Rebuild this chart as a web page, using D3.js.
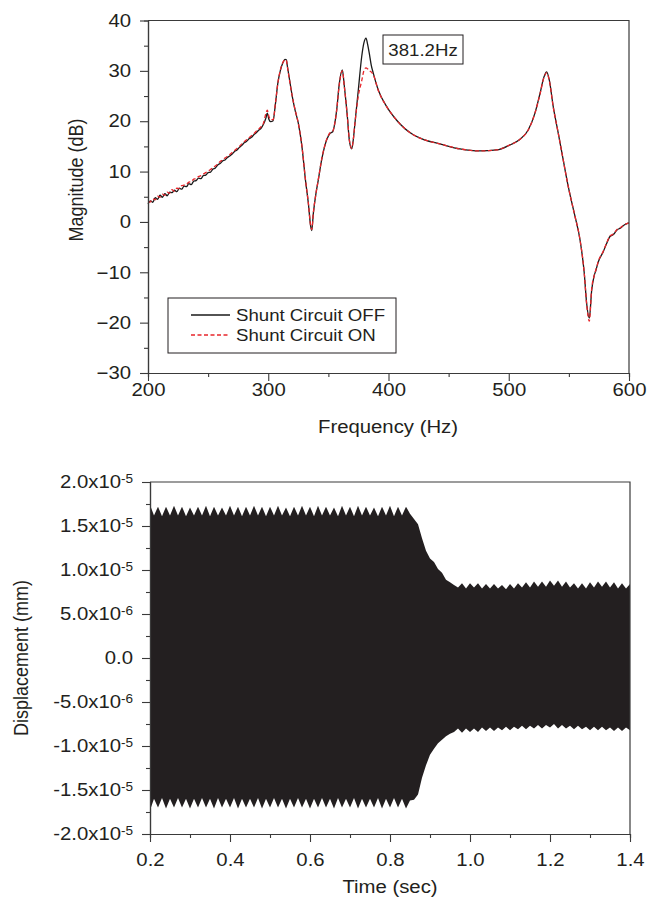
<!DOCTYPE html>
<head>
  <meta charset="utf-8">
  <script src="https://d3js.org/d3.v7.min.js"></script>
  <style>
    body { margin:0; background:#fff; }
    svg { font-family: "Liberation Sans", Arial, Helvetica, sans-serif; }
  </style>
</head>

<body>
  <script>
    // ---- frequency response (top) ----
    var freq = [200,202,204,206,208,210,212,214,216,218,220,222,224,226,228,230,232,234,236,238,
                240,242,244,246,248,250,252,254,256,258,260,262,264,266,268,270,272,274,276,278,
                280,282,284,286,288,290,292,294,296,
                298,299.2,300.5,302,304,306,308,310,312,314,315,316,318,320,322.5,325,328,331,333.3,335.3,
                336.2,337.5,339.7,341.6,344.4,348.6,351.4,353.6,355.5,356.9,359.1,361.6,363.3,365.8,367.4,369.4,
                370.8,372.1,374.9,377.7,379.5,381.3,382.6,384,385.6,387.4,391.5,398.5,406.8,420.6,430,442.8,
                459.5,476,490,501,509.4,516.3,521.8,526,529.3,531.5,533.7,537,541.2,545.3,549.5,552,555,
                559.3,562.8,564.8,567,569,570.9,572.5,574.5,578.6,581,584.2,587,590,593,596,600];

    var magOff = [3.6,4.2,3.9,4.8,4.5,5.3,4.9,5.6,5.2,5.9,5.8,6.3,6.0,6.7,6.5,7.1,7.0,7.6,7.4,8.1,
                  8.2,8.7,8.6,9.2,9.3,9.8,9.9,10.5,10.7,11.3,11.6,12.1,12.3,12.8,13.1,13.5,14.0,14.3,14.8,15.2,
                  15.7,16.0,16.5,16.8,17.3,17.7,18.2,18.6,19.4,
                  20.6,21.6,20.4,19.9,20.1,23.5,27.6,30.0,31.5,32.3,32.2,30.8,27.8,24.9,22.0,19.6,15.0,8.2,3.8,-0.9,
                  -1.7,1.7,5.7,8.3,12.3,16.3,17.6,17.9,19.8,22.2,27.5,30.2,26.9,20.9,16.3,14.5,
                  16.5,19.6,26.2,32.8,35.5,36.5,35.3,33.5,31.2,29.5,26.2,22.9,20.2,17.3,16.3,15.5,
                  14.5,14.1,14.3,15.3,16.4,18.3,21.6,25.5,28.8,29.8,28.2,22.9,17.6,12.3,7.0,4.3,1.2,
                  -3.6,-10.2,-16.2,-19.1,-13.5,-10.8,-9.6,-7.9,-5.9,-4.5,-2.9,-2.5,-1.6,-1.2,-0.6,-0.2];

    var magOn = [3.9,4.0,4.6,4.4,5.1,4.9,5.5,5.3,5.9,5.7,6.4,6.1,6.7,6.6,7.2,7.3,7.5,7.9,8.0,8.5,
                 8.6,9.0,9.2,9.5,9.8,10.1,10.4,10.8,11.1,11.5,12.0,12.3,12.7,13.0,13.4,13.8,14.2,14.6,15.0,15.5,
                 15.9,16.3,16.7,17.1,17.5,18.0,18.4,18.9,19.6,
                 21.5,22.2,21.0,20.3,20.3,23.6,27.6,30.1,31.6,32.2,32.1,30.7,27.7,24.9,22.1,19.6,15.1,8.3,3.9,-0.8,
                 -1.5,1.8,5.7,8.4,12.4,16.4,17.7,18.0,19.8,22.2,27.3,30.0,26.8,20.9,16.4,14.6,
                 16.5,19.6,25.0,28.0,30.0,30.6,30.4,30.0,29.8,29.2,26.1,22.9,20.2,17.3,16.3,15.5,
                 14.5,14.1,14.3,15.3,16.4,18.3,21.6,25.4,28.7,29.6,28.1,22.8,17.6,12.3,7.0,4.3,1.2,
                 -3.6,-10.2,-16.4,-19.7,-13.2,-10.8,-9.5,-7.8,-5.8,-4.4,-2.8,-2.4,-1.5,-1.1,-0.6,-0.2];

    var freqTicks = [200, 300, 400, 500, 600];
    var freqMinor = [250, 350, 450, 550];
    var magTicks = [-30, -20, -10, 0, 10, 20, 30, 40];
    var magMinor = [-25, -15, -5, 5, 15, 25, 35];
    var legendLabels = ["Shunt Circuit OFF", "Shunt Circuit ON"];
    var peakLabel = "381.2Hz";

    // ---- displacement envelope (bottom), values in 1e-5 mm ----
    var time = [0.20,0.21,0.22,0.23,0.24,0.25,0.26,0.27,0.28,0.29,0.30,0.31,0.32,0.33,0.34,0.35,0.36,0.37,0.38,0.39,
                0.40,0.41,0.42,0.43,0.44,0.45,0.46,0.47,0.48,0.49,0.50,0.51,0.52,0.53,0.54,0.55,0.56,0.57,0.58,0.59,
                0.60,0.61,0.62,0.63,0.64,0.65,0.66,0.67,0.68,0.69,0.70,0.71,0.72,0.73,0.74,0.75,0.76,0.77,0.78,0.79,
                0.80,0.81,0.82,0.83,0.84,0.85,0.86,0.87,0.88,0.89,0.90,0.91,0.92,0.93,0.94,0.95,0.96,0.97,0.98,0.99,
                1.00,1.01,1.02,1.03,1.04,1.05,1.06,1.07,1.08,1.09,1.10,1.11,1.12,1.13,1.14,1.15,1.16,1.17,1.18,1.19,
                1.20,1.21,1.22,1.23,1.24,1.25,1.26,1.27,1.28,1.29,1.30,1.31,1.32,1.33,1.34,1.35,1.36,1.37,1.38,1.39,1.40];

    var dispUpper = [1.74,1.62,1.72,1.61,1.72,1.62,1.73,1.62,1.72,1.61,
                     1.71,1.62,1.72,1.62,1.73,1.61,1.72,1.62,1.71,1.62,
                     1.73,1.62,1.72,1.61,1.72,1.62,1.73,1.62,1.72,1.61,
                     1.72,1.62,1.73,1.62,1.71,1.61,1.72,1.62,1.73,1.62,
                     1.72,1.61,1.73,1.62,1.72,1.62,1.71,1.61,1.73,1.62,
                     1.72,1.61,1.73,1.62,1.72,1.62,1.71,1.61,1.72,1.62,
                     1.73,1.61,1.72,1.62,1.72,1.64,1.58,1.52,1.36,1.22,
                     1.13,1.09,1.01,0.97,0.89,0.86,0.83,0.80,0.85,0.79,
                     0.85,0.80,0.85,0.79,0.84,0.79,0.84,0.79,0.83,0.78,
                     0.84,0.79,0.85,0.80,0.86,0.80,0.87,0.81,0.87,0.81,
                     0.88,0.82,0.88,0.81,0.87,0.80,0.85,0.79,0.85,0.79,
                     0.86,0.80,0.87,0.81,0.87,0.80,0.86,0.79,0.85,0.79,0.84];

    var dispLower = [-1.73,-1.60,-1.70,-1.59,-1.71,-1.60,-1.70,-1.59,-1.70,-1.60,
                     -1.71,-1.60,-1.70,-1.59,-1.70,-1.60,-1.71,-1.59,-1.70,-1.60,
                     -1.70,-1.59,-1.71,-1.60,-1.70,-1.60,-1.70,-1.59,-1.71,-1.60,
                     -1.70,-1.59,-1.70,-1.60,-1.71,-1.60,-1.70,-1.59,-1.70,-1.60,
                     -1.71,-1.60,-1.70,-1.59,-1.70,-1.60,-1.71,-1.59,-1.70,-1.60,
                     -1.70,-1.59,-1.71,-1.60,-1.70,-1.60,-1.70,-1.59,-1.71,-1.60,
                     -1.70,-1.59,-1.70,-1.60,-1.71,-1.62,-1.61,-1.55,-1.36,-1.22,
                     -1.10,-1.03,-0.97,-0.93,-0.89,-0.86,-0.84,-0.80,-0.85,-0.80,
                     -0.84,-0.80,-0.84,-0.79,-0.83,-0.79,-0.83,-0.79,-0.82,-0.78,
                     -0.82,-0.78,-0.81,-0.77,-0.81,-0.77,-0.80,-0.76,-0.80,-0.76,
                     -0.79,-0.75,-0.80,-0.76,-0.80,-0.77,-0.81,-0.77,-0.81,-0.78,
                     -0.82,-0.78,-0.82,-0.78,-0.82,-0.79,-0.83,-0.79,-0.83,-0.79,-0.82];

    var timeTicks = [0.2, 0.4, 0.6, 0.8, 1.0, 1.2, 1.4];
    var timeMinor = [0.3, 0.5, 0.7, 0.9, 1.1, 1.3];
    var dispTicks = [-2, -1.5, -1, -0.5, 0, 0.5, 1, 1.5, 2];
    var dispMinor = [-1.75, -1.25, -0.75, -0.25, 0.25, 0.75, 1.25, 1.75];
    var dispMant = ["-2.0x10", "-1.5x10", "-1.0x10", "-5.0x10", "0.0", "5.0x10", "1.0x10", "1.5x10", "2.0x10"];
    var dispExp  = ["-5", "-5", "-5", "-6", "", "-6", "-5", "-5", "-5"];

    // ---- drawing ----
    var width = 651, height = 899;
    var SX = 1.13;           // the figure is a bit wider than tall, text too
    var axisCol = '#3a3a3a';

    var svg = d3.select('body').append('svg')
      .attr('width', width)
      .attr('height', height);

    function styleAxis(g, fs) {
      g.attr('font-size', fs).attr('font-family', null);
      g.select('.domain').attr('stroke', axisCol).attr('stroke-width', 1.2);
      g.selectAll('.tick line').attr('stroke', axisCol).attr('stroke-width', 1.1);
      g.selectAll('.tick text').attr('fill', '#231f20').attr('transform', 'scale(' + SX + ',1)');
    }

    function frame(x, y) {
      var r = x.range(), t = y.range();
      svg.append('path')
        .attr('d', 'M' + r[0] + ',' + t[1] + 'H' + r[1] + 'V' + t[0])
        .attr('fill', 'none')
        .attr('stroke', axisCol)
        .attr('stroke-width', 1.2);
    }

    function title(txt, cx, cy, rotate) {
      var g = svg.append('g').attr('transform', 'translate(' + cx + ',' + cy + ')' + (rotate ? ' rotate(-90)' : ''));
      g.append('text')
        .attr('text-anchor', 'middle')
        .attr('font-size', 18)
        .attr('fill', '#231f20')
        .attr('transform', rotate ? 'scale(1,' + SX + ')' : 'scale(' + SX + ',1)')
        .text(txt);
    }

    // top chart
    var x1 = d3.scaleLinear().domain([200, 600]).range([148, 629]);
    var y1 = d3.scaleLinear().domain([-30, 40]).range([373, 20.5]);

    var line1 = d3.line()
      .x(function(d) { return x1(d[0]); })
      .y(function(d) { return y1(d[1]); })
      .curve(d3.curveMonotoneX);

    svg.append('path')
      .datum(d3.zip(freq, magOff))
      .attr('d', line1)
      .attr('fill', 'none')
      .attr('stroke', '#1a1a1a')
      .attr('stroke-width', 1.3);

    svg.append('path')
      .datum(d3.zip(freq, magOn))
      .attr('d', line1)
      .attr('fill', 'none')
      .attr('stroke', '#e8262b')
      .attr('stroke-width', 1.3)
      .attr('stroke-dasharray', '4,2.5');

    frame(x1, y1);

    svg.append('g').attr('transform', 'translate(0,373)')
      .call(d3.axisBottom(x1).tickValues(freqMinor).tickSize(4).tickFormat(''))
      .call(styleAxis, 18);
    svg.append('g').attr('transform', 'translate(0,373)')
      .call(d3.axisBottom(x1).tickValues(freqTicks).tickSize(8).tickSizeOuter(0).tickPadding(2).tickFormat(d3.format('d')))
      .call(styleAxis, 18);
    svg.append('g').attr('transform', 'translate(148,0)')
      .call(d3.axisLeft(y1).tickValues(magMinor).tickSize(4).tickFormat(''))
      .call(styleAxis, 18);
    svg.append('g').attr('transform', 'translate(148,0)')
      .call(d3.axisLeft(y1).tickValues(magTicks).tickSize(8).tickSizeOuter(0).tickPadding(7).tickFormat(d3.format('d')))
      .call(styleAxis, 18);

    title('Frequency (Hz)', 388, 433, false);
    title('Magnitude (dB)', 83, 180, true);

    // peak annotation
    svg.append('rect')
      .attr('x', 383).attr('y', 35).attr('width', 80).attr('height', 29)
      .attr('fill', '#fff').attr('stroke', '#231f20').attr('stroke-width', 1);
    svg.append('text')
      .attr('transform', 'translate(423,56) scale(' + SX + ',1)')
      .attr('text-anchor', 'middle')
      .attr('font-size', 16.5)
      .attr('fill', '#231f20')
      .text(peakLabel);

    // legend
    var leg = svg.append('g').attr('transform', 'translate(168,298)');
    leg.append('rect')
      .attr('width', 228).attr('height', 55)
      .attr('fill', '#fff').attr('stroke', '#231f20').attr('stroke-width', 1);
    var legStyles = [{ c: '#1a1a1a', dash: null }, { c: '#e8262b', dash: '4,2.5' }];
    legendLabels.forEach(function(lbl, i) {
      var yy = 17 + i * 20;
      leg.append('line')
        .attr('x1', 23).attr('x2', 62).attr('y1', yy).attr('y2', yy)
        .attr('stroke', legStyles[i].c).attr('stroke-width', 1.3)
        .attr('stroke-dasharray', legStyles[i].dash);
      leg.append('text')
        .attr('transform', 'translate(68,' + (yy + 6) + ') scale(' + SX + ',1)')
        .attr('font-size', 16.5)
        .attr('fill', '#231f20')
        .text(lbl);
    });

    // bottom chart
    var x2 = d3.scaleLinear().domain([0.2, 1.4]).range([150, 630]);
    var y2 = d3.scaleLinear().domain([-2, 2]).range([834, 482]);

    var area2 = d3.area()
      .x(function(d) { return x2(d[0]); })
      .y0(function(d) { return y2(d[2]); })
      .y1(function(d) { return y2(d[1]); });

    svg.append('path')
      .datum(d3.zip(time, dispUpper, dispLower))
      .attr('d', area2)
      .attr('fill', '#231f20');

    frame(x2, y2);

    svg.append('g').attr('transform', 'translate(0,834)')
      .call(d3.axisBottom(x2).tickValues(timeMinor).tickSize(4).tickFormat(''))
      .call(styleAxis, 18);
    svg.append('g').attr('transform', 'translate(0,834)')
      .call(d3.axisBottom(x2).tickValues(timeTicks).tickSize(8).tickSizeOuter(0).tickPadding(11).tickFormat(d3.format('.1f')))
      .call(styleAxis, 18);
    svg.append('g').attr('transform', 'translate(150,0)')
      .call(d3.axisLeft(y2).tickValues(dispMinor).tickSize(4).tickFormat(''))
      .call(styleAxis, 18);
    var yAx2 = svg.append('g').attr('transform', 'translate(150,0)')
      .call(d3.axisLeft(y2).tickValues(dispTicks).tickSize(8).tickSizeOuter(0).tickPadding(7)
        .tickFormat(function(d) { return dispMant[dispTicks.indexOf(d)]; }))
      .call(styleAxis, 18);
    yAx2.selectAll('.tick text').each(function(d) {
      var e = dispExp[dispTicks.indexOf(d)];
      if (e) {
        d3.select(this).append('tspan')
          .attr('dy', '-0.42em')
          .attr('font-size', 12)
          .text(e);
      }
    });

    title('Time (sec)', 390, 893, false);
    title('Displacement (mm)', 28, 658, true);
  </script>
</body>
